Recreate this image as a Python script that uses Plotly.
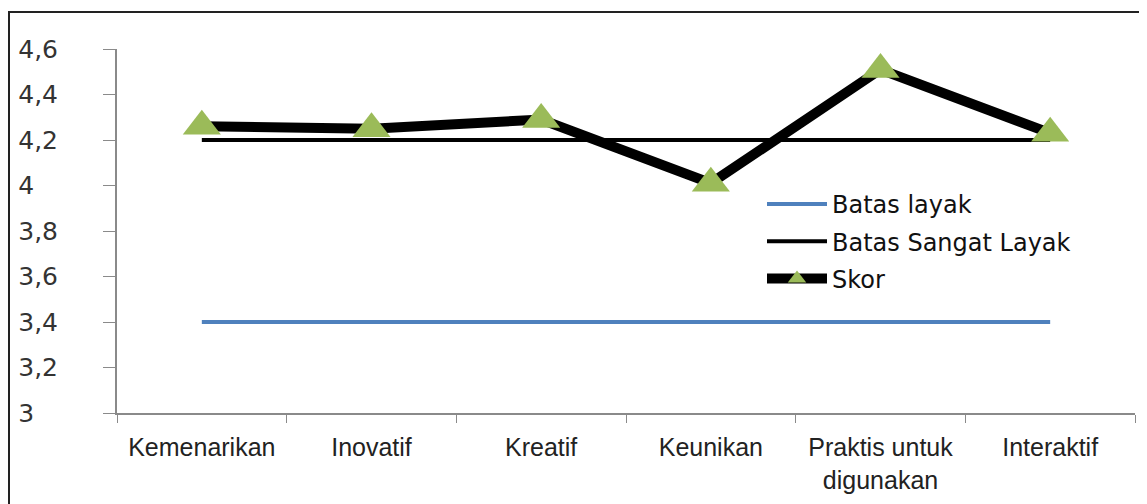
import plotly.graph_objects as go

categories = ["Kemenarikan", "Inovatif", "Kreatif", "Keunikan", "Praktis untuk<br>digunakan", "Interaktif"]
batas_layak = [3.4, 3.4, 3.4, 3.4, 3.4, 3.4]
batas_sangat_layak = [4.2, 4.2, 4.2, 4.2, 4.2, 4.2]
skor = [4.26, 4.25, 4.29, 4.01, 4.51, 4.23]
y_ticks = [3, 3.2, 3.4, 3.6, 3.8, 4, 4.2, 4.4, 4.6]


def fmt_tick(v):
    # comma decimal; whole numbers padded so the labels line up on the left
    if abs(v - round(v)) < 1e-9:
        return f"{int(round(v))}\u2008\u2007"
    return f"{v:.1f}".replace(".", ",")


y_ticktext = [fmt_tick(v) for v in y_ticks]

# page body has an 8px margin, so the figure is offset by (8, 8)
W, H = 1139, 496
L, T, R, B = 109, 41, 12, 91
plot_w = W - L - R
plot_h = H - T - B

fig = go.Figure()
fig.add_trace(go.Scatter(x=categories, y=batas_layak, mode="lines", name="Batas layak",
                         line=dict(color="#4F81BD", width=4), legendgroup="a"))
fig.add_trace(go.Scatter(x=categories, y=batas_sangat_layak, mode="lines", name="Batas Sangat Layak",
                         line=dict(color="#000000", width=4), legendgroup="b"))
fig.add_trace(go.Scatter(x=categories, y=skor, mode="lines+markers", name="Skor",
                         line=dict(color="#000000", width=10),
                         marker=dict(symbol="triangle-up", size=33, color="#9BBB59"),
                         legendgroup="c"))

fig.update_layout(
    width=W, height=H,
    margin=dict(l=L, r=R, t=T, b=B, autoexpand=False),
    paper_bgcolor="white", plot_bgcolor="white",
    separators=", ",
    showlegend=True,
    legend=dict(x=(762 - 8 - L) / plot_w, y=(405 - 174) / plot_h, xanchor="left", yanchor="top",
                font=dict(family="DejaVu Sans, sans-serif", size=24, color="#111"),
                bgcolor="rgba(0,0,0,0)", tracegroupgap=3, traceorder="grouped",
                itemwidth=60),
    xaxis=dict(type="category", range=[-0.5, 5.5], showline=True, linecolor="#8a8a8a", linewidth=2,
               ticks="outside", tickson="boundaries", ticklen=8, tickcolor="#8a8a8a",
               showgrid=False, zeroline=False, automargin=False, ticklabelstandoff=11,
               tickfont=dict(family="Liberation Sans, Arial, sans-serif", size=25, color="#222")),
    yaxis=dict(range=[3, 4.6], tickvals=y_ticks, ticktext=y_ticktext, showline=True,
               linecolor="#8a8a8a", linewidth=2,
               ticks="outside", ticklen=12, tickcolor="#8a8a8a", showgrid=False, zeroline=False,
               ticklabelstandoff=40, automargin=False,
               tickfont=dict(family="DejaVu Sans, sans-serif", size=25, color="#333")),
    shapes=[dict(type="rect", xref="paper", yref="paper",
                 x0=(1 - L) / plot_w, x1=1.2, y0=-0.4, y1=(H - B - 4) / plot_h,
                 line=dict(color="#222", width=2), fillcolor="rgba(0,0,0,0)", layer="below")],
)

fig.write_html("out.html")
